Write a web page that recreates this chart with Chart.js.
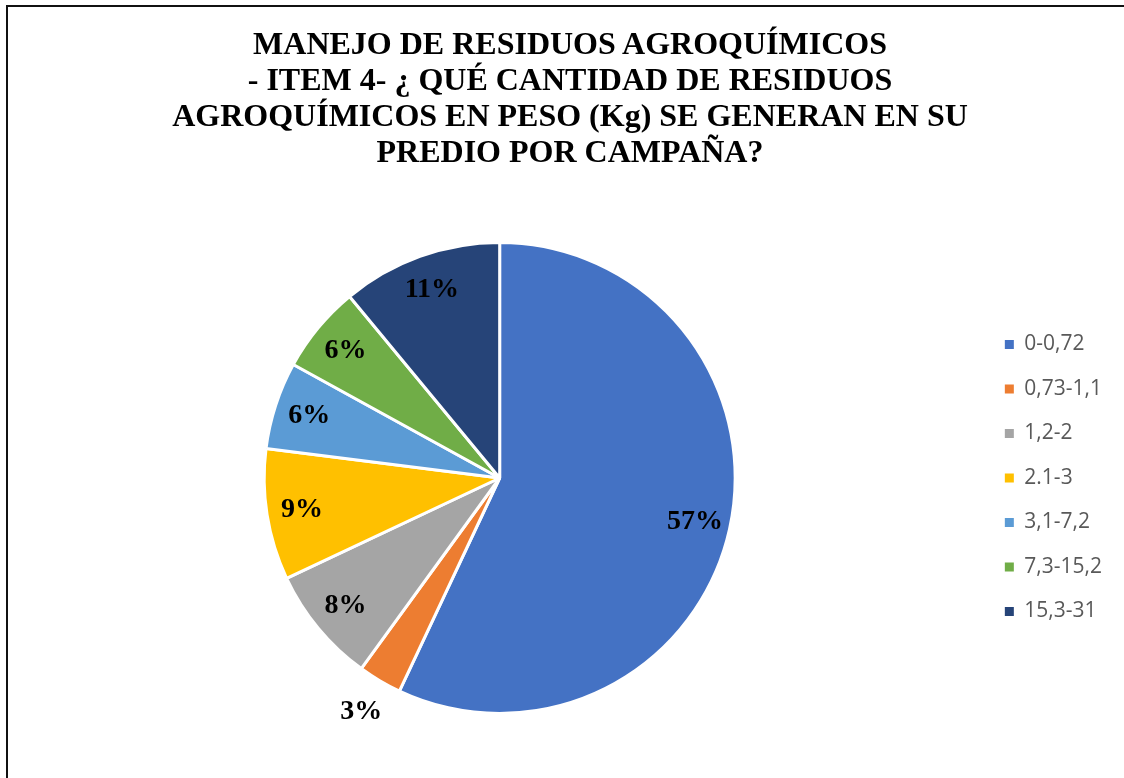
<!DOCTYPE html>
<html lang="es">
<head>
    <meta charset="UTF-8">
    <title>Manejo de residuos agroquímicos</title>
    <style>
        html, body {
            margin: 0;
            padding: 0;
            width: 1124px;
            height: 778px;
            overflow: hidden;
            background-color: #fff;
        }

        .frame {
            position: absolute;
            left: 6px;
            top: 5px;
            width: 1200px;
            height: 900px;
            border: 2px solid #111;
        }

        .title {
            position: absolute;
            left: 0;
            top: 25px;
            width: 1140px;
            text-align: center;
            font-family: "Liberation Serif", "Times New Roman", serif;
            font-weight: bold;
            font-size: 32px;
            line-height: 36px;
            color: #000;
            white-space: nowrap;
        }

        .chart-box {
            position: absolute;
            left: 0;
            top: 0;
            width: 1124px;
            height: 778px;
        }
    </style>
</head>
<body>
    <div class="frame"></div>
    <div class="chart-box">
        <canvas id="pieChart"></canvas>
    </div>
    <div class="title">
        MANEJO DE RESIDUOS AGROQUÍMICOS<br>
        - ITEM 4- ¿ QUÉ CANTIDAD DE RESIDUOS<br>
        AGROQUÍMICOS EN PESO (Kg) SE GENERAN EN SU<br>
        PREDIO POR CAMPAÑA?
    </div>

    <script src="https://cdn.jsdelivr.net/npm/chart.js"></script>
    <script>
        // rangos de peso (Kg) y porcentaje de respuestas
        const categories = ['0-0,72', '0,73-1,1', '1,2-2', '2.1-3', '3,1-7,2', '7,3-15,2', '15,3-31'];
        const percentages = [57, 3, 8, 9, 6, 6, 11];
        const sliceColors = ['#4472C4', '#ED7D31', '#A5A5A5', '#FFC000', '#5B9BD5', '#70AD47', '#264478'];

        // etiquetas de porcentaje dentro (o fuera, si es pequeña) de cada porción
        const pctLabels = {
            id: 'pctLabels',
            afterDatasetsDraw(chart) {
                const ctx = chart.ctx;
                const meta = chart.getDatasetMeta(0);
                const values = chart.data.datasets[0].data;
                const total = values.reduce((a, b) => a + b, 0);
                ctx.save();
                ctx.font = 'bold 28px "Liberation Serif", "Times New Roman", serif';
                ctx.fillStyle = '#000';
                ctx.textAlign = 'center';
                ctx.textBaseline = 'middle';
                meta.data.forEach((arc, i) => {
                    const p = arc.getProps(['x', 'y', 'startAngle', 'endAngle', 'outerRadius'], true);
                    const mid = (p.startAngle + p.endAngle) / 2;
                    const share = values[i] / total;
                    const r = p.outerRadius * (share < 0.05 ? 1.155 : 0.85);
                    const tx = p.x + Math.cos(mid) * r;
                    const ty = p.y + Math.sin(mid) * r;
                    ctx.fillText(Math.round(share * 100) + '%', tx, ty);
                });
                ctx.restore();
            }
        };

        const ctx = document.getElementById('pieChart').getContext('2d');
        new Chart(ctx, {
            type: 'pie',
            data: {
                labels: categories,
                datasets: [{
                    data: percentages,
                    backgroundColor: sliceColors,
                    borderColor: '#fff',
                    borderWidth: 3
                }]
            },
            options: {
                responsive: true,
                maintainAspectRatio: false,
                animation: false,
                layout: {
                    padding: { top: 241, bottom: 63, left: 18, right: 12 }
                },
                plugins: {
                    tooltip: { enabled: false },
                    title: { display: false },
                    legend: {
                        position: 'right',
                        labels: {
                            boxWidth: 9,
                            boxHeight: 9,
                            padding: 23.5,
                            color: '#595959',
                            font: { family: '"Open Sans", sans-serif', size: 21 },
                            generateLabels(chart) {
                                const items = Chart.overrides.pie.plugins.legend.labels.generateLabels(chart);
                                items.forEach(item => {
                                    item.lineWidth = 0;
                                    item.strokeStyle = item.fillStyle;
                                });
                                return items;
                            }
                        }
                    }
                }
            },
            plugins: [pctLabels]
        });
    </script>
</body>
</html>
